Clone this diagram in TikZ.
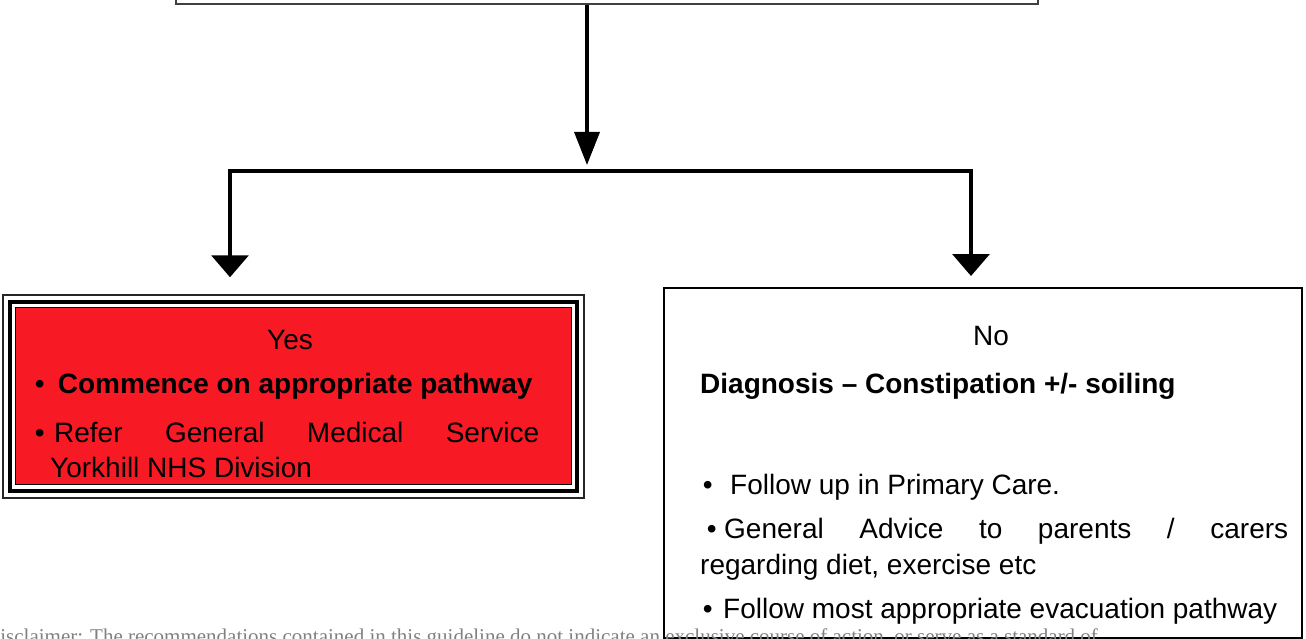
\documentclass[tikz,border=0pt]{standalone}
\usepackage{fontspec}
\setmainfont{Liberation Sans}
\newfontfamily\discfont{Liberation Serif}
\usetikzlibrary{positioning, arrows.meta}
\definecolor{alertred}{RGB}{247,26,36}

\begin{document}
\begin{tikzpicture}[x=1pt, y=-1pt]
        % picture is measured in pixels of the page, y runs downwards
        \tikzstyle{lbl}=[inner sep=0pt, anchor=base west, font=\fontsize{28}{34}\selectfont]
        \tikzstyle{flow}=[line width=3.5pt, line join=miter]
        \tikzstyle{outline}=[draw, rectangle, inner sep=0pt]

        \useasboundingbox (0,0) rectangle (1306,639);
        \clip (0,0) rectangle (1306,639);

        \node[outline, draw=black!75, line width=2pt, minimum width=862pt, minimum height=100pt] (start) at (607,-46) {};
        \node[outline, draw=black!85, line width=1.5pt, minimum width=581pt, minimum height=203pt] (yes) at (293.5,396.5) {};
        \node[outline, line width=2pt, minimum width=638pt, minimum height=350pt] (no) at (983,463) {};

        \draw[line width=4pt] ([shift={(7.5,7.5)}]yes.north west) rectangle ([shift={(-7.5,-7.5)}]yes.south east);
        \draw[fill=alertred, line width=1pt] ([shift={(13.5,13.5)}]yes.north west) rectangle ([shift={(-13.5,-14.5)}]yes.south east);

        \coordinate (split) at (587,171);
        \coordinate (lsplit) at (230,171);
        \coordinate (rsplit) at (971,171);

        \draw[flow, -{Triangle[width=25pt, length=33pt]}] (start.south -| split) -- ([yshift=6pt]split);
        \draw[flow, line width=4pt] (lsplit) -- (rsplit);
        \draw[flow, -{Triangle[width=37pt, length=22pt]}] ([yshift=2pt]lsplit) -- ([yshift=17pt]lsplit |- yes.north);
        \draw[flow, -{Triangle[width=37pt, length=22pt]}] ([yshift=2pt]rsplit) -- ([yshift=11pt]rsplit |- no.north);

        % left box
        \node[lbl, anchor=base] (yeshead) at (290,349) {Yes};
        \node[lbl] (yesa) at (34.6,393) {\textbullet\hspace{13.3pt}\textbf{Commence on appropriate pathway}};
        \node[lbl] (yesb) at (34.6,442) {\textbullet\hspace{9.6pt}\makebox[485pt][s]{Refer General Medical Service}};
        \node[lbl] (yesc) at (50,477) {Yorkhill NHS Division};

        % right box
        \node[lbl, anchor=base] (nohead) at (991,345) {No};
        \node[lbl] (diag) at (700,393) {\textbf{Diagnosis -- Constipation +/- soiling}};
        \node[lbl] (noa) at (702.6,494) {\textbullet\hspace{17.6pt}Follow up in Primary Care.};
        \node[lbl] (nob) at (706.6,538) {\textbullet\hspace{7.6pt}\makebox[564pt][s]{General Advice to parents / carers}};
        \node[lbl] (noc) at (700,574) {regarding diet, exercise etc};
        \node[lbl] (nod) at (702.6,618) {\textbullet\hspace{10.6pt}Follow most appropriate evacuation pathway};

        \node[inner sep=0pt, anchor=base west, text=black!50, font=\discfont\fontsize{21}{25}\selectfont] (disc) at (-15,643)
          {Disclaimer: The recommendations contained in this guideline do not indicate an exclusive course of action, or serve as a standard of};
      \end{tikzpicture}
\end{document}
